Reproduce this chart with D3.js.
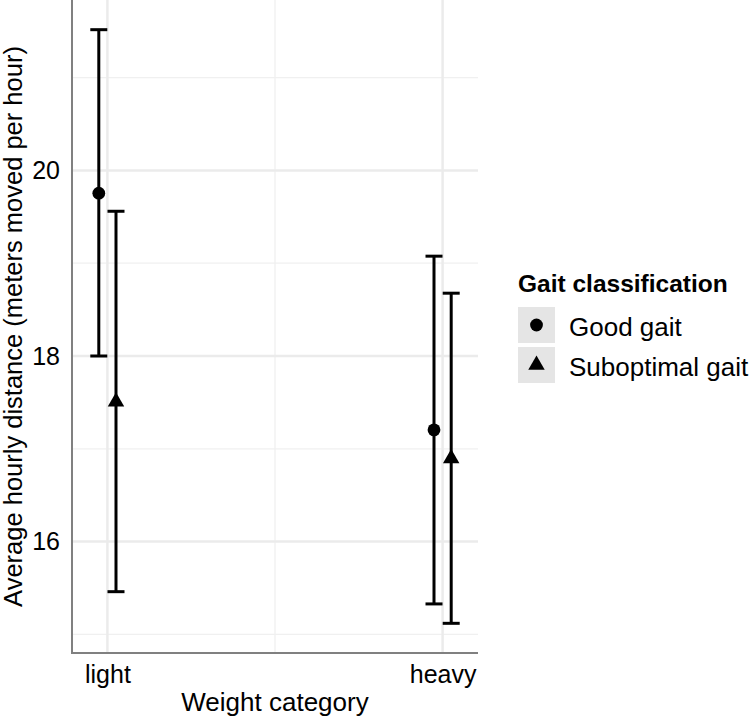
<!DOCTYPE html>
<html>
<head>
<meta charset="utf-8">
<script src="https://cdn.jsdelivr.net/npm/d3@7"></script>
<style>
  html, body { margin: 0; padding: 0; background: #fff; }
  text { font-family: "Liberation Sans", Arial, Helvetica, sans-serif; fill: #000; }
</style>
</head>
<body>
<svg id="chart" width="750" height="721"></svg>
<script>
// ---- data ----
const categories = ["light", "heavy"];
const series = ["Good gait", "Suboptimal gait"];
const means = {
  "Good gait":       [19.755, 17.204],
  "Suboptimal gait": [17.507, 16.896]
};
const lowers = {
  "Good gait":       [18.0, 15.328],
  "Suboptimal gait": [15.46, 15.119]
};
const uppers = {
  "Good gait":       [21.517, 19.076],
  "Suboptimal gait": [19.56, 18.677]
};
const yMajorTicks = [16, 18, 20];
const yMinorTicks = [15, 17, 19, 21];
const xTitle = "Weight category";
const yTitle = "Average hourly distance (meters moved per hour)";
const legendTitle = "Gait classification";

// ---- layout ----
const svg = d3.select("#chart");
const panel = { left: 72, right: 478, top: 0, bottom: 653 };

const rows = [];
series.forEach(s => categories.forEach((c, i) => {
  rows.push({ series: s, cat: c, mean: means[s][i], lo: lowers[s][i], hi: uppers[s][i] });
}));

const dataMin = d3.min(rows, d => d.lo), dataMax = d3.max(rows, d => d.hi);
const pad = (dataMax - dataMin) * 0.05;
const y = d3.scaleLinear().domain([dataMin - pad, dataMax + pad]).range([panel.bottom, panel.top]);
const x = d3.scalePoint().domain(categories).range([panel.left, panel.right]).padding(0.1056);
const dodge = d3.scalePoint().domain(series).range([-8.6, 8.6]);
const capHalf = 8.5;

// ---- grid ----
const grid = svg.append("g");
grid.selectAll("line.hmin").data(yMinorTicks).join("line")
  .attr("x1", panel.left).attr("x2", panel.right)
  .attr("y1", d => y(d)).attr("y2", d => y(d))
  .attr("stroke", "#f0f0f0").attr("stroke-width", 1.3);
const xMid = (x(categories[0]) + x(categories[1])) / 2;
grid.append("line")
  .attr("x1", xMid).attr("x2", xMid).attr("y1", panel.top).attr("y2", panel.bottom)
  .attr("stroke", "#f0f0f0").attr("stroke-width", 1.3);
grid.selectAll("line.hmaj").data(yMajorTicks).join("line")
  .attr("x1", panel.left).attr("x2", panel.right)
  .attr("y1", d => y(d)).attr("y2", d => y(d))
  .attr("stroke", "#ebebeb").attr("stroke-width", 2.5);
grid.selectAll("line.vmaj").data(categories).join("line")
  .attr("x1", d => x(d)).attr("x2", d => x(d))
  .attr("y1", panel.top).attr("y2", panel.bottom)
  .attr("stroke", "#ebebeb").attr("stroke-width", 2.5);

// ---- axes ----
const yAxis = svg.append("g").attr("transform", `translate(${panel.left},0)`)
  .call(d3.axisLeft(y).tickValues(yMajorTicks).tickSize(0).tickPadding(12).tickFormat(d3.format("d")));
yAxis.select(".domain").remove();
yAxis.selectAll("text").style("font-size", "25px").attr("fill", "#1a1a1a")
  .style("font-family", "'Liberation Sans', Arial, sans-serif");

const xAxis = svg.append("g").attr("transform", `translate(0,${panel.bottom})`)
  .call(d3.axisBottom(x).tickSize(0).tickPadding(12));
xAxis.select(".domain").remove();
xAxis.selectAll("text").style("font-size", "25px").attr("fill", "#1a1a1a")
  .style("font-family", "'Liberation Sans', Arial, sans-serif");

svg.append("line").attr("x1", panel.left).attr("x2", panel.left)
  .attr("y1", panel.top).attr("y2", panel.bottom + 1)
  .attr("stroke", "#808080").attr("stroke-width", 2);
svg.append("line").attr("x1", panel.left - 1).attr("x2", panel.right)
  .attr("y1", panel.bottom).attr("y2", panel.bottom)
  .attr("stroke", "#808080").attr("stroke-width", 2);

// axis titles
svg.append("text").attr("x", (panel.left + panel.right) / 2).attr("y", 711)
  .attr("text-anchor", "middle").style("font-size", "26px").text(xTitle);
svg.append("text")
  .attr("transform", `translate(21.5,${(panel.top + panel.bottom) / 2}) rotate(-90)`)
  .attr("text-anchor", "middle").style("font-size", "25.5px").text(yTitle);

// ---- error bars ----
const eb = svg.append("g").attr("stroke", "#000").attr("stroke-width", 3).attr("fill", "none");
rows.forEach(d => {
  const cx = x(d.cat) + dodge(d.series);
  eb.append("line").attr("x1", cx).attr("x2", cx).attr("y1", y(d.lo)).attr("y2", y(d.hi));
  eb.append("line").attr("x1", cx - capHalf).attr("x2", cx + capHalf).attr("y1", y(d.hi)).attr("y2", y(d.hi));
  eb.append("line").attr("x1", cx - capHalf).attr("x2", cx + capHalf).attr("y1", y(d.lo)).attr("y2", y(d.lo));
});

// ---- points ----
const triR = 9.5; // top vertex distance; base at +r/2
function triPath(cx, cy, r) {
  const hx = r * Math.sqrt(3) / 2;
  return `M${cx},${cy - r}L${cx + hx},${cy + r / 2}L${cx - hx},${cy + r / 2}Z`;
}
const pts = svg.append("g");
rows.forEach(d => {
  const cx = x(d.cat) + dodge(d.series);
  const cy = y(d.mean);
  if (d.series === series[0]) {
    pts.append("circle").attr("cx", cx).attr("cy", cy).attr("r", 6.4).attr("fill", "#000");
  } else {
    pts.append("path").attr("d", triPath(cx, cy, triR)).attr("fill", "#000");
  }
});

// ---- legend ----
const lg = svg.append("g");
lg.append("text").attr("x", 518).attr("y", 292)
  .style("font-size", "24.5px").style("font-weight", "bold").text(legendTitle);
series.forEach((s, i) => {
  const top = 307 + i * 40;
  lg.append("rect").attr("x", 518).attr("y", top).attr("width", 37).attr("height", 36).attr("fill", "#e5e5e5");
  const cx = 536.5, cy = top + 18;
  if (i === 0) lg.append("circle").attr("cx", cx).attr("cy", cy).attr("r", 6.4).attr("fill", "#000");
  else lg.append("path").attr("d", triPath(cx, cy, triR)).attr("fill", "#000");
  lg.append("text").attr("x", 569).attr("y", top + 29).style("font-size", "26px").attr("fill", "#1a1a1a").text(s);
});
</script>
</body>
</html>
